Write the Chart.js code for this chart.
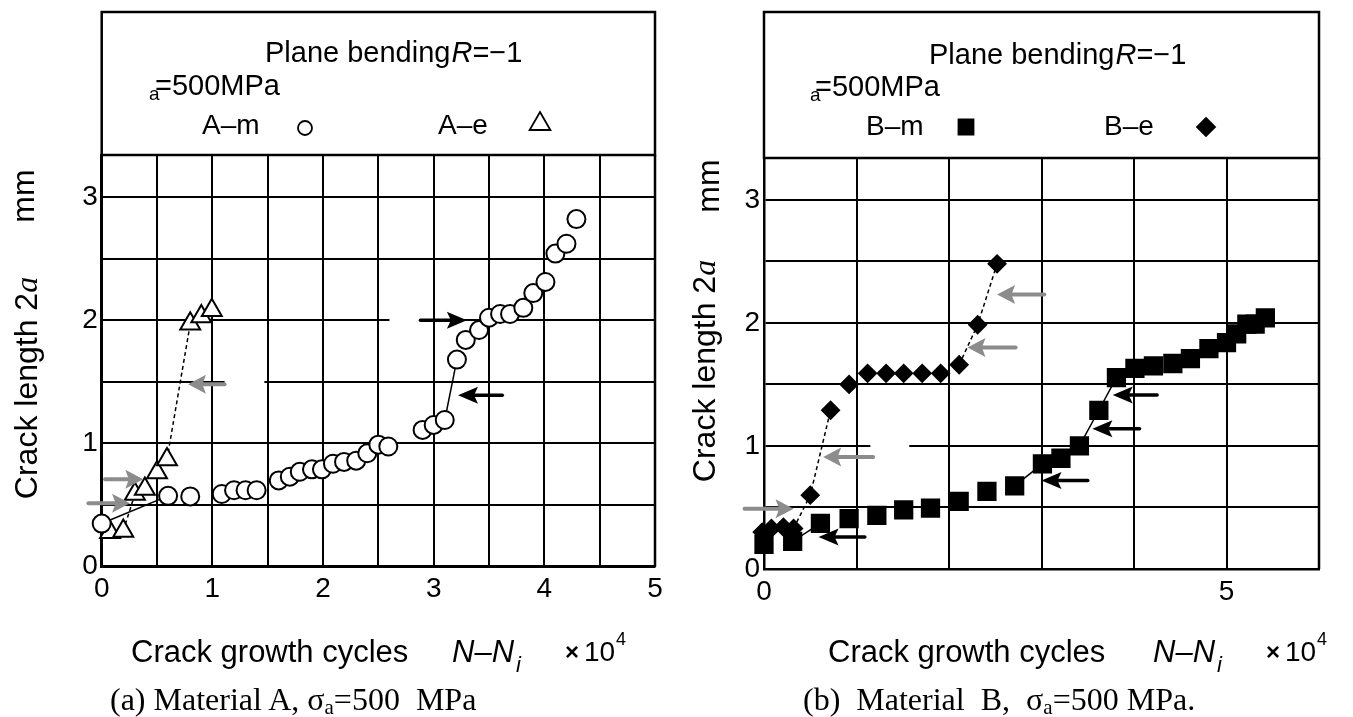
<!DOCTYPE html>
<html>
<head>
<meta charset="utf-8">
<script src="https://cdn.jsdelivr.net/npm/chart.js"></script>
<style>
  html, body { margin:0; padding:0; background:#fff; }
  #wrap { position:relative; width:1353px; height:717px; overflow:hidden; font-family:"Liberation Sans", Arial, sans-serif; color:#000; }
  canvas { position:absolute; top:0; }
  .t { position:absolute; white-space:pre; line-height:1; }
  .rot { position:absolute; white-space:pre; line-height:1; font-size:32px; transform:translate(-50%,-50%) rotate(-90deg); }
  .cap { position:absolute; white-space:pre; line-height:1; font-family:"Liberation Serif","Times New Roman",serif; font-size:32px; }
  .sub { font-size:21px; position:relative; top:4px; }
</style>
</head>
<body>
<div id="wrap">
  <canvas id="chartA" width="680" height="717" style="left:0"></canvas>
  <canvas id="chartB" width="673" height="717" style="left:680px"></canvas>

  <!-- panel (a) legend -->
  <div class="t" style="left:265px;top:38px;font-size:29px">Plane bending<i style="margin-left:1px">R</i>=−1</div>
  <div class="t" style="left:149px;top:84px;font-size:19px">a</div>
  <div class="t" style="left:155px;top:71px;font-size:29px">=500MPa</div>
  <div class="t" style="left:202px;top:111px;font-size:28px">A–m</div>
  <div class="t" style="left:438px;top:111px;font-size:28px">A–e</div>

  <!-- panel (b) legend -->
  <div class="t" style="left:929px;top:40px;font-size:29px">Plane bending<i style="margin-left:1px">R</i>=−1</div>
  <div class="t" style="left:810px;top:85px;font-size:19px">a</div>
  <div class="t" style="left:815px;top:72px;font-size:29px">=500MPa</div>
  <div class="t" style="left:866px;top:112px;font-size:28px">B–m</div>
  <div class="t" style="left:1104px;top:112px;font-size:28px">B–e</div>

  <!-- y titles -->
  <div class="rot" style="left:26px;top:388px">Crack length 2<i style="font-family:'Liberation Serif',serif">a</i></div>
  <div class="rot" style="left:23px;top:196px">mm</div>
  <div class="rot" style="left:704px;top:371px">Crack length 2<i style="font-family:'Liberation Serif',serif">a</i></div>
  <div class="rot" style="left:708px;top:186px">mm</div>

  <!-- x titles -->
  <div class="t" style="left:131px;top:636px;font-size:31px">Crack growth cycles</div>
  <div class="t" style="left:452px;top:636px;font-size:31px;font-style:italic">N–N</div>
  <div class="t" style="left:516px;top:654px;font-size:22px;font-style:italic">i</div>
  <div class="t" style="left:565px;top:640px;font-size:24px;font-weight:bold">×</div>
  <div class="t" style="left:584px;top:638px;font-size:28px">10</div>
  <div class="t" style="left:616px;top:630px;font-size:18px">4</div>

  <div class="t" style="left:828px;top:636px;font-size:31px">Crack growth cycles</div>
  <div class="t" style="left:1153px;top:636px;font-size:31px;font-style:italic">N–N</div>
  <div class="t" style="left:1217px;top:654px;font-size:22px;font-style:italic">i</div>
  <div class="t" style="left:1266px;top:640px;font-size:24px;font-weight:bold">×</div>
  <div class="t" style="left:1285px;top:638px;font-size:28px">10</div>
  <div class="t" style="left:1317px;top:630px;font-size:18px">4</div>

  <!-- captions -->
  <div class="cap" style="left:110px;top:683px">(a) Material A, σ<span class="sub">a</span>=500  MPa</div>
  <div class="cap" style="left:803px;top:683px">(b)  Material  B,  σ<span class="sub">a</span>=500 MPa.</div>
</div>

<script>
// crack growth cycles N-Ni (x 10^4) and crack length 2a (mm)

// Material A, matrix (A-m)
const amX = [0, 0.60, 0.80, 1.085, 1.196, 1.30, 1.40, 1.60, 1.70, 1.79, 1.90, 1.99, 2.09, 2.19, 2.30, 2.40, 2.50, 2.59,
             2.90, 3.00, 3.10, 3.21, 3.29, 3.41, 3.50, 3.60, 3.69, 3.81, 3.90, 4.01, 4.10, 4.20, 4.29];
const amY = [0.35, 0.575, 0.57, 0.59, 0.62, 0.62, 0.62, 0.70, 0.73, 0.77, 0.79, 0.79, 0.835, 0.85, 0.86, 0.92, 0.99, 0.975,
             1.11, 1.15, 1.19, 1.68, 1.84, 1.92, 2.02, 2.05, 2.05, 2.10, 2.22, 2.31, 2.54, 2.62, 2.82];
const amLinks = [0, 20];          // segments drawn as solid line (start index)

// Material A, edge (A-e)
const aeX = [0.076, 0.195, 0.30, 0.39, 0.50, 0.59, 0.80, 0.90, 0.995];
const aeY = [0.28, 0.29, 0.59, 0.63, 0.765, 0.87, 1.97, 2.03, 2.08];
const aeLinks = [1, 5];           // dashed segments

// Material B, matrix (B-m)
const bmX = [0.0, 0.31, 0.61, 0.92, 1.22, 1.51, 1.80, 2.11, 2.41, 2.71, 3.01, 3.21, 3.41, 3.62, 3.81,
             4.01, 4.21, 4.42, 4.61, 4.81, 5.00, 5.11, 5.22, 5.31, 5.42];
const bmY = [0.20, 0.225, 0.37, 0.41, 0.435, 0.48, 0.495, 0.55, 0.63, 0.675, 0.855, 0.90, 1.00, 1.29, 1.556,
             1.63, 1.65, 1.67, 1.71, 1.79, 1.84, 1.91, 1.99, 1.99, 2.04];
const bmLinks = [1, 9, 12, 13];

// Material B, edge (B-e)
const beX = [-0.02, 0.08, 0.21, 0.32, 0.50, 0.72, 0.92, 1.12, 1.32, 1.51, 1.71, 1.91, 2.11, 2.31, 2.52];
const beY = [0.30, 0.33, 0.34, 0.33, 0.60, 1.29, 1.50, 1.59, 1.59, 1.59, 1.59, 1.59, 1.66, 1.985, 2.48];
const beLinks = [3, 4, 12, 13];

const yTickLabels = [0, 1, 2, 3];
const xTickLabelsA = [0, 1, 2, 3, 4, 5];
const xTickLabelsB = [0, 5];

// arrows: from x0 (tail) to x1 (tip) at height y
const arrowsA = [
  { x0: 2.88, x1: 3.30, y: 2.00, gray: false },
  { x0: 3.62, x1: 3.22, y: 1.39, gray: false },
  { x0: 1.11, x1: 0.78, y: 1.48, gray: true },
  { x0: 0.03, x1: 0.376, y: 0.71, gray: true },
  { x0: -0.12, x1: 0.256, y: 0.514, gray: true }
];
const arrowsB = [
  { x0: 1.09, x1: 0.59, y: 0.26, gray: false },
  { x0: 3.50, x1: 3.00, y: 0.72, gray: false },
  { x0: 4.06, x1: 3.55, y: 1.14, gray: false },
  { x0: 4.25, x1: 3.77, y: 1.415, gray: false },
  { x0: -0.21, x1: 0.32, y: 0.49, gray: true },
  { x0: 1.18, x1: 0.64, y: 0.91, gray: true },
  { x0: 2.72, x1: 2.20, y: 1.80, gray: true },
  { x0: 3.03, x1: 2.52, y: 2.23, gray: true }
];
// white breaks in grid lines
const gapsA = [ { x0: 2.60, x1: 2.87, y: 2.0 }, { x0: 1.11, x1: 1.47, y: 1.5 } ];
const gapsB = [ { x0: 1.15, x1: 1.57, y: 1.0 } ];

const FONT = "'Liberation Sans', Arial, sans-serif";

function pts(xs, ys){ return xs.map((x, i) => ({ x: x, y: ys[i] })); }

function series(label, xs, ys, links, style){
  return Object.assign({
    label: label,
    data: pts(xs, ys),
    showLine: true,
    clip: false,
    borderColor: '#000',
    borderWidth: 1.5,
    pointBorderColor: '#000',
    pointBorderWidth: 2,
    segment: { borderColor: c => links.includes(c.p0DataIndex) ? '#000' : 'rgba(0,0,0,0)' }
  }, style);
}

function axes(xMax, xStep, xLabels, yWidth, xHeight){
  return {
    x: {
      type: 'linear', min: 0, max: xMax,
      afterFit: s => { s.height = xHeight; },
      ticks: { stepSize: xStep, autoSkip: false, maxRotation: 0, padding: 6, color: '#000',
               font: { family: FONT, size: 28 },
               callback: v => xLabels.includes(v) ? String(v) : '' },
      grid: { color: '#000', lineWidth: 2, drawTicks: false },
      border: { color: '#000', width: 2.5 }
    },
    y: {
      type: 'linear', min: 0, max: 3.34,
      afterFit: s => { s.width = yWidth; },
      ticks: { stepSize: 0.5, includeBounds: false, autoSkip: false, padding: 4, color: '#000',
               font: { family: FONT, size: 28 },
               callback: v => yTickLabels.includes(v) ? String(v) : '' },
      grid: { color: '#000', lineWidth: 2, drawTicks: false },
      border: { color: '#000', width: 2.5 }
    }
  };
}

function marker(ctx, kind, x, y, r, fill){
  ctx.save();
  ctx.lineWidth = 1.8;
  ctx.strokeStyle = '#000';
  ctx.fillStyle = fill;
  ctx.beginPath();
  if(kind === 'circle'){ ctx.arc(x, y, r, 0, Math.PI * 2); }
  else if(kind === 'triangle'){
    ctx.moveTo(x, y - r);
    ctx.lineTo(x + r * 0.866, y + r / 2);
    ctx.lineTo(x - r * 0.866, y + r / 2);
    ctx.closePath();
  }
  else if(kind === 'square'){ ctx.rect(x - r, y - r, 2 * r, 2 * r); }
  else if(kind === 'diamond'){
    ctx.moveTo(x, y - r); ctx.lineTo(x + r, y); ctx.lineTo(x, y + r); ctx.lineTo(x - r, y); ctx.closePath();
  }
  ctx.fill();
  ctx.stroke();
  ctx.restore();
}

function arrow(ctx, x0, x1, y, gray){
  const dir = Math.sign(x1 - x0);
  const head = gray ? 18 : 20, half = gray ? 9.5 : 8.5;
  const col = gray ? '#8c8c8c' : '#000';
  ctx.save();
  ctx.strokeStyle = col;
  ctx.fillStyle = col;
  ctx.lineWidth = gray ? 4 : 3.5;
  ctx.lineCap = 'round';
  ctx.beginPath();
  ctx.moveTo(x0, y);
  ctx.lineTo(x1 - dir * head * 0.7, y);
  ctx.stroke();
  ctx.beginPath();
  ctx.moveTo(x1, y);
  ctx.lineTo(x1 - dir * head, y - half);
  ctx.lineTo(x1 - dir * head * 0.8, y);
  ctx.lineTo(x1 - dir * head, y + half);
  ctx.closePath();
  ctx.fill();
  ctx.restore();
}

const deco = {
  id: 'deco',
  beforeDatasetsDraw(chart, args, opts){
    const ctx = chart.ctx, a = chart.chartArea, xs = chart.scales.x, ys = chart.scales.y;
    // breaks in grid lines
    ctx.save();
    ctx.strokeStyle = '#fff';
    ctx.lineWidth = 5;
    opts.gaps.forEach(g => {
      ctx.beginPath();
      ctx.moveTo(xs.getPixelForValue(g.x0), ys.getPixelForValue(g.y));
      ctx.lineTo(xs.getPixelForValue(g.x1), ys.getPixelForValue(g.y));
      ctx.stroke();
    });
    // legend box above plot area
    ctx.fillStyle = '#fff';
    ctx.fillRect(a.left, opts.boxTop, a.right - a.left, a.top - opts.boxTop);
    ctx.strokeStyle = '#000';
    ctx.lineWidth = 2.5;
    ctx.strokeRect(a.left, opts.boxTop, a.right - a.left, a.top - opts.boxTop);
    ctx.beginPath();
    ctx.moveTo(a.right, a.top);
    ctx.lineTo(a.right, a.bottom);
    ctx.stroke();
    ctx.restore();
    opts.marks.forEach(m => marker(ctx, m.kind, m.x, m.y, m.r, m.fill));
  },
  afterDatasetsDraw(chart, args, opts){
    const ctx = chart.ctx, xs = chart.scales.x, ys = chart.scales.y;
    opts.arrows.forEach(ar => arrow(ctx, xs.getPixelForValue(ar.x0), xs.getPixelForValue(ar.x1), ys.getPixelForValue(ar.y), ar.gray));
  }
};

Chart.defaults.font.family = FONT;
Chart.defaults.color = '#000';

new Chart(document.getElementById('chartA'), {
  type: 'scatter',
  data: {
    datasets: [
      series('A–m', amX, amY, amLinks, { pointStyle: 'circle', pointRadius: 9, pointBackgroundColor: '#fff' }),
      series('A–e', aeX, aeY, aeLinks, { pointStyle: 'triangle', pointRadius: 11.5, pointBackgroundColor: '#fff', borderDash: [4, 3] })
    ]
  },
  options: {
    responsive: false, animation: false, devicePixelRatio: 1,
    layout: { padding: { top: 155, right: 25, left: 0, bottom: 0 } },
    scales: axes(5, 0.5, xTickLabelsA, 101.7, 150.3),
    plugins: {
      legend: { display: false }, tooltip: { enabled: false },
      deco: {
        boxTop: 12, gaps: gapsA, arrows: arrowsA,
        marks: [ { kind: 'circle', x: 305, y: 128, r: 7, fill: '#fff' },
                 { kind: 'triangle', x: 540, y: 124, r: 12, fill: '#fff' } ]
      }
    }
  },
  plugins: [deco]
});

new Chart(document.getElementById('chartB'), {
  type: 'scatter',
  data: {
    datasets: [
      series('B–m', bmX, bmY, bmLinks, { pointStyle: 'rect', pointRadius: 12.2, pointBackgroundColor: '#000' }),
      series('B–e', beX, beY, beLinks, { pointStyle: 'rectRot', pointRadius: 8.5, pointBackgroundColor: '#000', borderDash: [4, 3] })
    ]
  },
  options: {
    responsive: false, animation: false, devicePixelRatio: 1,
    layout: { padding: { top: 158, right: 34, left: 0, bottom: 0 } },
    scales: axes(6, 1, xTickLabelsB, 84, 148),
    plugins: {
      legend: { display: false }, tooltip: { enabled: false },
      deco: {
        boxTop: 12, gaps: gapsB, arrows: arrowsB,
        marks: [ { kind: 'square', x: 286, y: 127, r: 7.5, fill: '#000' },
                 { kind: 'diamond', x: 526, y: 127, r: 9, fill: '#000' } ]
      }
    }
  },
  plugins: [deco]
});
</script>
</body>
</html>
